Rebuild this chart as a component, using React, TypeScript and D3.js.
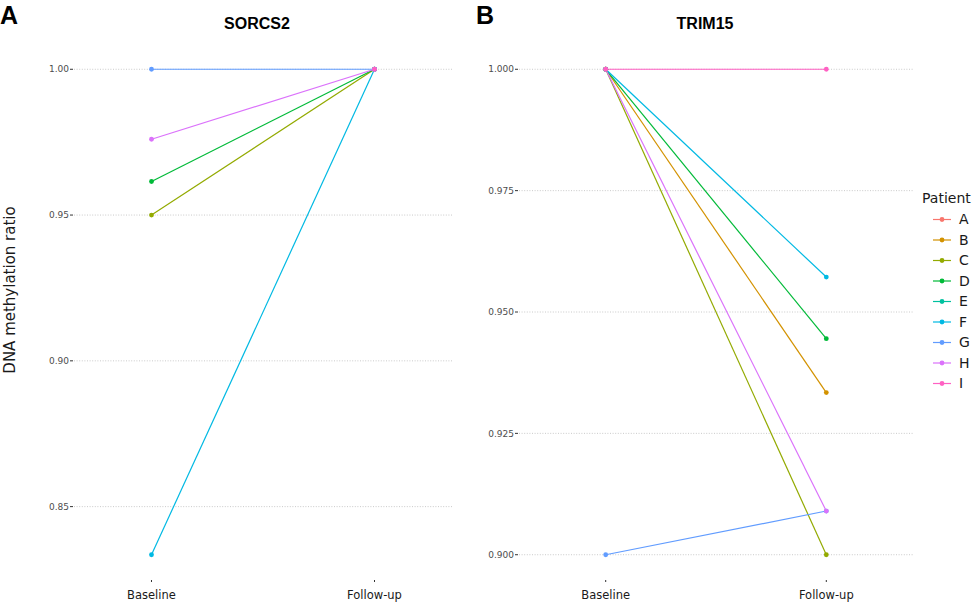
import * as d3 from "d3";

// values (null = not visible)
const timepoints = ["Baseline", "Follow-up"];
const patients = ["A", "B", "C", "D", "E", "F", "G", "H", "I"];
const patientColors = [
  "#F8766D", "#D39200", "#93AA00", "#00BA38", "#00C19F",
  "#00B9E3", "#619CFF", "#DB72FB", "#FF61C3",
];

const sorcs2Baseline = [null, null, 0.95, 0.9615, null, 0.8335, 1.0, 0.976, null];
const sorcs2FollowUp = [null, null, 1.0, 1.0, null, 1.0, 1.0, 1.0, 1.0];
const sorcs2Ticks = [0.85, 0.9, 0.95, 1.0];

const trim15Baseline = [null, 1.0, 1.0, 1.0, null, 1.0, 0.9, 1.0, 1.0];
const trim15FollowUp = [null, 0.9334, 0.9, 0.9445, null, 0.9572, 0.909, 0.909, 1.0];
const trim15Ticks = [0.9, 0.925, 0.95, 0.975, 1.0];

const W = 973;
const H = 604;
const plotTop = 45;
const plotBottom = 579;
const tickFont = "'DejaVu Sans', sans-serif";
const titleFont = "'Liberation Sans', Arial, sans-serif";

function Panel({
  letter, letterX, title, titleX, x0, x1, pad, baseline, followUp, ticks, digits,
}: {
  letter: string; letterX: number; title: string; titleX: number;
  x0: number; x1: number; pad: number;
  baseline: (number | null)[]; followUp: (number | null)[];
  ticks: number[]; digits: number;
}) {
  const x = d3.scalePoint<string>().domain(timepoints).range([x0, x1]).padding(pad);
  const vals = [...baseline, ...followUp].filter((v): v is number => v != null);
  const [lo, hi] = d3.extent(vals) as [number, number];
  const e = (hi - lo) * 0.05;
  const y = d3.scaleLinear().domain([lo - e, hi + e]).range([plotBottom, plotTop]);
  const fmt = d3.format(`.${digits}f`);
  const line = d3
    .line<[string, number]>()
    .x((d) => x(d[0]) as number)
    .y((d) => y(d[1]));

  return (
    <g>
      <text x={letterX} y={24} fontFamily={titleFont} fontWeight="bold" fontSize={25}>
        {letter}
      </text>
      <text x={titleX} y={29} textAnchor="middle" fontFamily={titleFont} fontWeight="bold" fontSize={16}>
        {title}
      </text>
      {ticks.map((t) => (
        <g key={t}>
          <line x1={x0} x2={x1} y1={y(t)} y2={y(t)} stroke="#c4c4c4" strokeWidth={0.9} strokeDasharray="1 1.6" />
          <line x1={x0 - 4} x2={x0 - 1} y1={y(t)} y2={y(t)} stroke="#333" strokeWidth={1} />
          <text x={x0 - 5} y={y(t)} dy="0.35em" textAnchor="end" fontFamily={tickFont} fontSize={9} fill="#4d4d4d">
            {fmt(t)}
          </text>
        </g>
      ))}
      {timepoints.map((tp) => (
        <g key={tp}>
          <line x1={x(tp)} x2={x(tp)} y1={plotBottom + 1} y2={plotBottom + 3} stroke="#333" strokeWidth={1} />
          <text x={x(tp)} y={595} dy="0.35em" textAnchor="middle" fontFamily={tickFont} fontSize={11.5} fill="#1a1a1a">
            {tp}
          </text>
        </g>
      ))}
      {patients.map((p, i) => {
        const b = baseline[i];
        const f = followUp[i];
        if (b == null || f == null) return null;
        return (
          <path
            key={p}
            d={line([[timepoints[0], b], [timepoints[1], f]]) ?? ""}
            fill="none"
            stroke={patientColors[i]}
            strokeWidth={1.2}
          />
        );
      })}
      {patients.map((p, i) => (
        <g key={p}>
          {baseline[i] != null && (
            <circle cx={x(timepoints[0])} cy={y(baseline[i] as number)} r={2.4} fill={patientColors[i]} />
          )}
          {followUp[i] != null && (
            <circle cx={x(timepoints[1])} cy={y(followUp[i] as number)} r={2.4} fill={patientColors[i]} />
          )}
        </g>
      ))}
    </g>
  );
}

export default function App() {
  return (
    <svg width={W} height={H} style={{ position: "absolute", left: 0, top: 0, background: "#fff" }}>
      <text
        transform="translate(15,290) rotate(-90)"
        textAnchor="middle"
        fontFamily={tickFont}
        fontSize={15}
        fill="#1a1a1a"
      >
        DNA methylation ratio
      </text>
      <Panel
        letter="A" letterX={0} title="SORCS2" titleX={257}
        x0={74} x1={452} pad={0.3475}
        baseline={sorcs2Baseline} followUp={sorcs2FollowUp}
        ticks={sorcs2Ticks} digits={2}
      />
      <Panel
        letter="B" letterX={476} title="TRIM15" titleX={705}
        x0={519} x1={913} pad={0.393}
        baseline={trim15Baseline} followUp={trim15FollowUp}
        ticks={trim15Ticks} digits={3}
      />
      <g>
        <text x={922} y={198} dy="0.35em" fontFamily={tickFont} fontSize={14} fill="#1a1a1a">
          Patient
        </text>
        {patients.map((p, i) => {
          const cy = 219.5 + i * 20.5;
          return (
            <g key={p}>
              <line x1={933} x2={951} y1={cy} y2={cy} stroke={patientColors[i]} strokeWidth={1.2} />
              <circle cx={942} cy={cy} r={2.4} fill={patientColors[i]} />
              <text x={959} y={cy} dy="0.35em" fontFamily={tickFont} fontSize={14} fill="#1a1a1a">
                {p}
              </text>
            </g>
          );
        })}
      </g>
    </svg>
  );
}
